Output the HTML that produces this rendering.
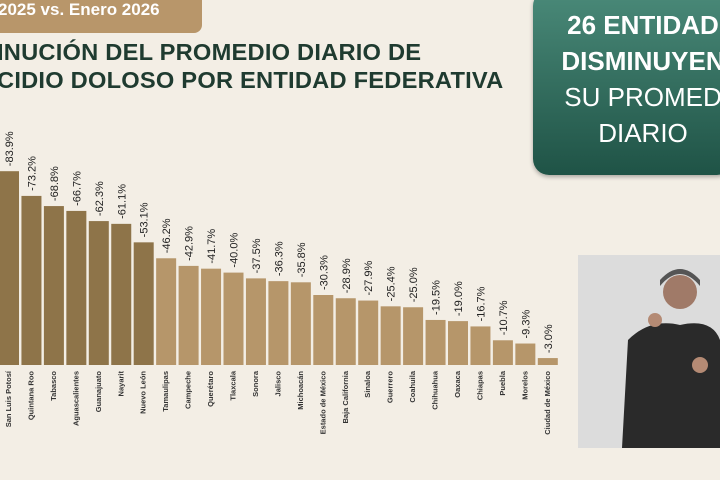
<!DOCTYPE html>
<html><head><meta charset="utf-8"><style>
body{margin:0;width:720px;height:480px;overflow:hidden;background:#f3eee5;font-family:"Liberation Sans",sans-serif;position:relative}
.tag{position:absolute;left:-10px;top:-10px;width:212px;height:33px;background:#b8966a;border-radius:8px;color:#fff;font-weight:bold;font-size:17px;line-height:20px;padding-top:10px;text-indent:8px}
.title{position:absolute;left:-3px;top:38px;color:#1f3b30;font-weight:bold;font-size:23px;line-height:28px;letter-spacing:0.2px;white-space:nowrap;transform:scaleX(1.03);transform-origin:left}
.green{position:absolute;left:533px;top:-10px;width:200px;height:185px;border-radius:16px;background:linear-gradient(#4a8a79,#1f5346);color:#fff;text-align:center;box-shadow:0 2px 4px rgba(0,0,0,.3)}
.green div{position:absolute;left:0;width:220px;white-space:nowrap;font-size:26px}
</style></head><body>
<div class="tag">2025 vs. Enero 2026</div>
<div class="title">INUCIÓN DEL PROMEDIO DIARIO DE<br>CIDIO DOLOSO POR ENTIDAD FEDERATIVA</div>
<div class="green">
<div style="top:20px;font-weight:bold">26 ENTIDAD</div>
<div style="top:56px;font-weight:bold">DISMINUYEN</div>
<div style="top:92px">SU PROMED</div>
<div style="top:128px">DIARIO</div>
</div>
<svg width="720" height="480" style="position:absolute;left:0;top:0">
<g id="bars"></g>
<rect x="578" y="255" width="142" height="193" fill="#dcdcdc"/>
<circle cx="680" cy="292" r="17" fill="#a07a68"/>
<path d="M660 286 Q680 262 700 286 L700 280 Q680 258 660 280Z" fill="#555"/>
<path d="M622 448 L628 340 Q650 318 680 325 Q712 318 720 340 L720 448Z" fill="#2a2a2a"/>
<circle cx="655" cy="320" r="7" fill="#b48a74"/>
<circle cx="700" cy="365" r="8" fill="#b48a74"/>
</svg>
<script>
var d=[["San Luis Potosí",83.9],["Quintana Roo",73.2],["Tabasco",68.8],["Aguascalientes",66.7],["Guanajuato",62.3],["Nayarit",61.1],["Nuevo León",53.1],["Tamaulipas",46.2],["Campeche",42.9],["Querétaro",41.7],["Tlaxcala",40.0],["Sonora",37.5],["Jalisco",36.3],["Michoacán",35.8],["Estado de México",30.3],["Baja California",28.9],["Sinaloa",27.9],["Guerrero",25.4],["Coahuila",25.0],["Chihuahua",19.5],["Oaxaca",19.0],["Chiapas",16.7],["Puebla",10.7],["Morelos",9.3],["Ciudad de México",3.0]];
var s="",base=365,k=2.31;
for(var i=0;i<d.length;i++){var x=-1+i*22.45,h=d[i][1]*k,y=base-h,c=i<7?"#8e7449":"#b6966a";
s+='<rect x="'+x+'" y="'+y+'" width="20" height="'+h+'" fill="'+c+'"/>';
s+='<text transform="translate('+(x+14)+','+(y-5)+') rotate(-90)" font-size="11" fill="#222" font-family="Liberation Sans">-'+d[i][1].toFixed(1)+'%</text>';
s+='<text transform="translate('+(x+12)+',371) rotate(-90)" text-anchor="end" font-size="7.5" font-weight="bold" fill="#333" font-family="Liberation Sans">'+d[i][0]+'</text>';}
document.getElementById("bars").innerHTML=s;
</script>
</body></html>
